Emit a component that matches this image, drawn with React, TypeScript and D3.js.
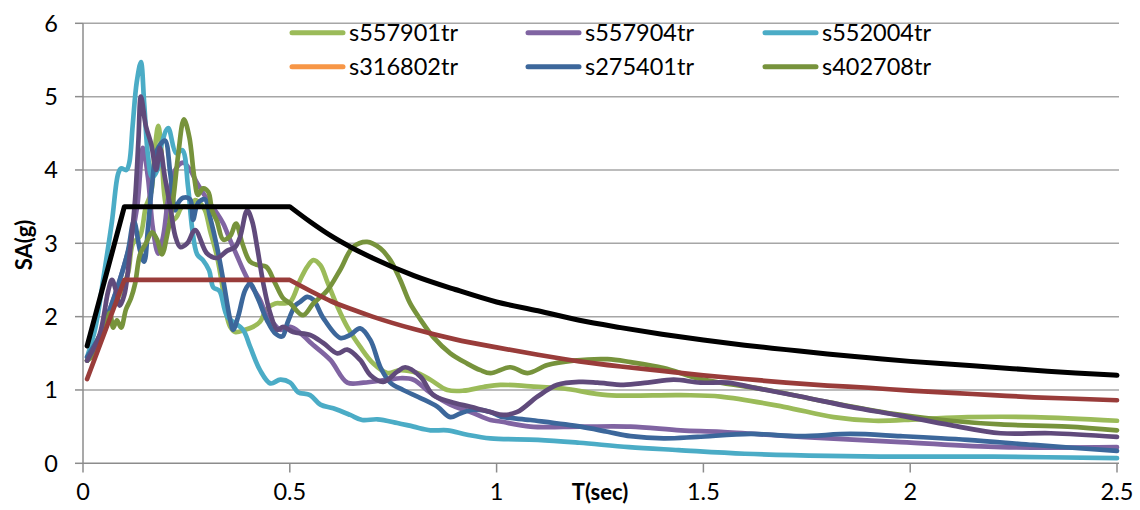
import React from 'react';
import * as d3 from 'd3';

type Pt = [number, number];

// Response spectra: [period T (sec), SA (g)]
const s557901tr: Pt[] = [[0.01,1.4],[0.041,1.75],[0.065,2.05],[0.089,2.3],[0.109,2.6],[0.121,3.0],[0.138,3.1],[0.152,3.5],[0.165,3.7],[0.174,4.3],[0.182,4.6],[0.189,4.3],[0.198,3.6],[0.211,3.3],[0.225,3.35],[0.24,3.5],[0.259,3.5],[0.271,3.59],[0.283,3.55],[0.295,3.45],[0.307,3.18],[0.324,2.82],[0.336,2.45],[0.346,2.05],[0.356,1.86],[0.368,1.79],[0.392,1.82],[0.411,1.86],[0.428,1.93],[0.445,2.11],[0.465,2.18],[0.484,2.18],[0.501,2.2],[0.525,2.5],[0.542,2.68],[0.557,2.77],[0.574,2.7],[0.591,2.47],[0.615,2.14],[0.639,1.86],[0.67,1.59],[0.702,1.36],[0.736,1.23],[0.767,1.27],[0.808,1.23],[0.84,1.14],[0.881,1.0],[0.92,0.99],[0.968,1.04],[1.009,1.07],[1.082,1.05],[1.162,1.02],[1.268,0.93],[1.445,0.93],[1.542,0.91],[1.694,0.77],[1.815,0.63],[1.912,0.58],[2.018,0.6],[2.139,0.63],[2.299,0.63],[2.5,0.58]];

const s557904tr: Pt[] = [[0.01,1.4],[0.041,1.7],[0.065,2.1],[0.089,2.5],[0.114,3.0],[0.131,3.5],[0.145,4.3],[0.157,3.9],[0.169,3.2],[0.182,2.86],[0.194,3.1],[0.206,3.6],[0.223,4.0],[0.242,4.1],[0.259,4.0],[0.276,3.82],[0.3,3.6],[0.324,3.41],[0.339,3.27],[0.356,3.04],[0.373,2.82],[0.387,2.64],[0.404,2.45],[0.428,2.23],[0.445,2.0],[0.46,1.91],[0.477,1.82],[0.501,1.86],[0.525,1.78],[0.549,1.65],[0.598,1.41],[0.639,1.1],[0.678,1.1],[0.736,1.14],[0.767,1.16],[0.799,1.14],[0.84,0.96],[0.888,0.8],[0.937,0.7],[0.985,0.59],[1.009,0.57],[1.082,0.5],[1.203,0.5],[1.324,0.5],[1.445,0.45],[1.542,0.43],[1.735,0.36],[1.977,0.29],[2.219,0.22],[2.5,0.22]];

const s552004tr: Pt[] = [[0.01,1.45],[0.03,1.85],[0.05,2.55],[0.07,3.3],[0.085,3.95],[0.092,4.02],[0.105,4.0],[0.112,4.1],[0.12,4.6],[0.13,5.2],[0.14,5.47],[0.148,4.9],[0.157,4.2],[0.167,3.9],[0.18,4.0],[0.19,4.35],[0.206,4.57],[0.225,4.23],[0.24,4.27],[0.254,3.77],[0.264,3.2],[0.276,2.85],[0.29,2.77],[0.305,2.63],[0.315,2.4],[0.33,2.35],[0.349,2.0],[0.387,1.82],[0.404,1.59],[0.428,1.27],[0.453,1.09],[0.477,1.14],[0.501,1.1],[0.52,0.97],[0.549,0.93],[0.574,0.8],[0.605,0.75],[0.646,0.66],[0.675,0.59],[0.712,0.6],[0.76,0.55],[0.799,0.5],[0.84,0.45],[0.881,0.45],[0.929,0.39],[0.985,0.34],[1.1,0.32],[1.2,0.28],[1.32,0.22],[1.44,0.18],[1.6,0.13],[1.8,0.1],[2.0,0.09],[2.2,0.09],[2.5,0.07]];

const s275401tr: Pt[] = [[0.01,1.45],[0.041,1.75],[0.065,2.1],[0.089,2.5],[0.109,2.9],[0.123,3.3],[0.138,2.9],[0.148,2.75],[0.157,3.2],[0.167,3.8],[0.179,4.27],[0.198,4.4],[0.211,3.95],[0.223,3.45],[0.23,3.55],[0.242,3.62],[0.259,3.6],[0.266,3.32],[0.278,3.55],[0.295,3.6],[0.307,3.36],[0.324,2.95],[0.339,2.5],[0.356,1.95],[0.363,1.82],[0.375,2.0],[0.392,2.36],[0.404,2.45],[0.421,2.27],[0.445,1.95],[0.465,1.77],[0.482,1.73],[0.494,1.91],[0.513,2.15],[0.525,2.2],[0.542,2.27],[0.557,2.23],[0.581,1.98],[0.622,1.71],[0.646,1.75],[0.67,1.84],[0.695,1.68],[0.719,1.31],[0.743,1.1],[0.774,1.0],[0.816,0.89],[0.857,0.77],[0.888,0.63],[0.912,0.68],[0.944,0.73],[0.985,0.7],[1.009,0.64],[1.082,0.59],[1.203,0.5],[1.268,0.43],[1.324,0.37],[1.404,0.34],[1.486,0.36],[1.614,0.4],[1.735,0.37],[1.856,0.4],[1.977,0.37],[2.139,0.32],[2.299,0.25],[2.5,0.17]];

const s402708tr: Pt[] = [[0.01,1.4],[0.029,1.5],[0.048,1.75],[0.065,2.05],[0.073,1.85],[0.082,1.95],[0.092,1.85],[0.104,2.1],[0.116,2.25],[0.126,2.45],[0.138,2.85],[0.152,3.0],[0.167,3.15],[0.179,3.05],[0.191,2.85],[0.203,3.1],[0.218,3.6],[0.23,4.2],[0.244,4.69],[0.257,4.45],[0.269,3.9],[0.278,3.66],[0.29,3.75],[0.303,3.7],[0.312,3.45],[0.324,3.3],[0.339,3.05],[0.356,3.1],[0.37,3.27],[0.385,3.0],[0.404,2.75],[0.424,2.7],[0.443,2.68],[0.465,2.45],[0.484,2.25],[0.501,2.18],[0.532,2.02],[0.557,2.18],[0.591,2.36],[0.622,2.64],[0.653,2.95],[0.687,3.02],[0.719,2.93],[0.743,2.77],[0.767,2.5],[0.791,2.18],[0.816,1.96],[0.847,1.72],[0.888,1.5],[0.929,1.36],[0.961,1.27],[0.985,1.23],[1.033,1.31],[1.075,1.23],[1.123,1.34],[1.186,1.4],[1.268,1.42],[1.324,1.38],[1.404,1.3],[1.493,1.15],[1.655,1.0],[1.815,0.82],[1.977,0.66],[2.098,0.58],[2.219,0.53],[2.381,0.5],[2.5,0.45]];

// Additional record (not listed in the legend)
const recordDark: Pt[] = [[0.01,1.4],[0.04,1.75],[0.061,2.35],[0.07,2.5],[0.08,2.35],[0.089,2.15],[0.1,2.3],[0.114,2.9],[0.126,3.6],[0.134,4.4],[0.14,5.0],[0.152,4.6],[0.165,4.35],[0.177,4.0],[0.186,4.3],[0.198,3.9],[0.211,3.5],[0.223,3.1],[0.235,2.95],[0.252,3.0],[0.271,3.18],[0.3,2.86],[0.324,2.8],[0.349,2.9],[0.368,2.95],[0.38,3.09],[0.397,3.45],[0.409,3.3],[0.421,2.95],[0.436,2.45],[0.453,2.04],[0.47,1.82],[0.484,1.86],[0.508,1.79],[0.549,1.75],[0.581,1.64],[0.615,1.5],[0.639,1.55],[0.67,1.41],[0.695,1.2],[0.726,1.11],[0.76,1.25],[0.779,1.31],[0.816,1.18],[0.847,0.93],[0.888,0.84],[0.937,0.77],[0.985,0.7],[1.016,0.66],[1.05,0.7],[1.099,0.91],[1.147,1.07],[1.203,1.11],[1.244,1.1],[1.307,1.07],[1.365,1.1],[1.428,1.14],[1.493,1.1],[1.559,1.1],[1.614,1.04],[1.735,0.91],[1.856,0.77],[1.977,0.65],[2.098,0.52],[2.219,0.41],[2.34,0.41],[2.5,0.36]];

// Design spectra: ramp and plateau, then the descending branch
const designUpperRamp: Pt[] = [[0.01,1.6],[0.1,3.5],[0.5,3.5]];
const designUpperTail: Pt[] = [[0.5,3.5],[0.55,3.29],[0.6,3.1],[0.65,2.94],[0.7,2.8],[0.8,2.56],[0.9,2.37],[1.0,2.2],[1.1,2.08],[1.2,1.95],[1.3,1.85],[1.4,1.76],[1.5,1.68],[1.6,1.61],[1.7,1.55],[1.8,1.49],[1.9,1.44],[2.0,1.39],[2.1,1.35],[2.2,1.31],[2.3,1.27],[2.4,1.23],[2.5,1.2]];
const designLowerRamp: Pt[] = [[0.01,1.15],[0.1,2.5],[0.5,2.5]];
const designLowerTail: Pt[] = [[0.5,2.5],[0.55,2.35],[0.6,2.21],[0.65,2.1],[0.7,2.0],[0.8,1.83],[0.9,1.69],[1.0,1.58],[1.1,1.48],[1.2,1.39],[1.3,1.32],[1.4,1.26],[1.5,1.2],[1.6,1.15],[1.7,1.1],[1.8,1.06],[1.9,1.03],[2.0,0.99],[2.1,0.96],[2.2,0.93],[2.3,0.9],[2.4,0.88],[2.5,0.86]];

const legendNames = ['s557901tr', 's557904tr', 's552004tr', 's316802tr', 's275401tr', 's402708tr'];
const legendColors = ['#9BBB59', '#8064A2', '#4BACC6', '#F79646', '#3C679B', '#77933C'];

const yTicks = [0, 1, 2, 3, 4, 5, 6];
const xTicks = [0, 0.5, 1, 1.5, 2, 2.5];

const FONT = "Lato, 'Open Sans', sans-serif";

export default function App() {
  const x = d3.scaleLinear().domain([0, 2.5]).range([83, 1117]);
  const y = d3.scaleLinear().domain([0, 6]).range([463.3, 23.3]);

  const smooth = d3.line<Pt>().x(d => x(d[0])).y(d => y(d[1])).curve(d3.curveCatmullRom.alpha(0.5));
  const straight = d3.line<Pt>().x(d => x(d[0])).y(d => y(d[1]));
  const mono = d3.line<Pt>().x(d => x(d[0])).y(d => y(d[1])).curve(d3.curveMonotoneX);

  const designPath = (ramp: Pt[], tail: Pt[]) =>
    (straight(ramp) || '') + (mono(tail) || '').replace(/^M/, 'L');

  const records: { data: Pt[]; color: string }[] = [
    { data: s557901tr, color: '#9BBB59' },
    { data: s557904tr, color: '#8064A2' },
    { data: s552004tr, color: '#4BACC6' },
    { data: s275401tr, color: '#3C679B' },
    { data: s402708tr, color: '#77933C' },
    { data: recordDark, color: '#604A7B' },
  ];

  const legendCols = [292, 528, 765];
  const legendRows = [32.7, 66.7];

  return (
    <svg width={1140} height={510} style={{ position: 'absolute', left: 0, top: 0, background: '#fff' }} fontFamily={FONT}>
      {/* horizontal gridlines */}
      {yTicks.filter(t => t > 0).map(t => (
        <line key={'g' + t} x1={x(0)} x2={1119} y1={y(t)} y2={y(t)} stroke="#A6A6A6" strokeWidth={1.5} />
      ))}
      {/* axes */}
      <line x1={x(0)} x2={x(0)} y1={y(6)} y2={y(0)} stroke="#8C8C8C" strokeWidth={1.5} />
      <line x1={x(0)} x2={1119} y1={y(0)} y2={y(0)} stroke="#8C8C8C" strokeWidth={1.5} />
      {yTicks.map(t => (
        <g key={'y' + t}>
          <line x1={75} x2={x(0)} y1={y(t)} y2={y(t)} stroke="#8C8C8C" strokeWidth={1.5} />
          <text x={58} y={y(t)} dy="0.36em" textAnchor="end" fontSize={23.5} fill="#000">{t}</text>
        </g>
      ))}
      {xTicks.map(t => (
        <g key={'x' + t}>
          <line x1={x(t)} x2={x(t)} y1={y(0)} y2={472.5} stroke="#8C8C8C" strokeWidth={1.5} />
          <text x={x(t)} y={492} dy="0.36em" textAnchor="middle" fontSize={23.5} fill="#000">{t}</text>
        </g>
      ))}
      <text x={600} y={492} dy="0.36em" textAnchor="middle" fontSize={22} fontWeight="bold">T(sec)</text>
      <text transform="translate(24,245) rotate(-90)" dy="0.36em" textAnchor="middle" fontSize={22} fontWeight="bold">SA(g)</text>

      {/* record spectra */}
      {records.map((r, i) => (
        <path key={'r' + i} d={smooth(r.data) || ''} fill="none" stroke={r.color} strokeWidth={4.7} strokeLinejoin="round" strokeLinecap="round" />
      ))}
      {/* design spectra */}
      <path d={designPath(designLowerRamp, designLowerTail)} fill="none" stroke="#993C3A" strokeWidth={4.7} strokeLinejoin="round" strokeLinecap="round" />
      <path d={designPath(designUpperRamp, designUpperTail)} fill="none" stroke="#000" strokeWidth={5} strokeLinejoin="round" strokeLinecap="round" />

      {/* legend */}
      {legendNames.map((name, i) => {
        const cx = legendCols[i % 3];
        const cy = legendRows[Math.floor(i / 3)];
        return (
          <g key={name}>
            <line x1={cx} x2={cx + 51} y1={cy} y2={cy} stroke={legendColors[i]} strokeWidth={5} strokeLinecap="round" />
            <text x={cx + 57} y={cy} dy="0.36em" fontSize={23.5} fill="#000">{name}</text>
          </g>
        );
      })}
    </svg>
  );
}
